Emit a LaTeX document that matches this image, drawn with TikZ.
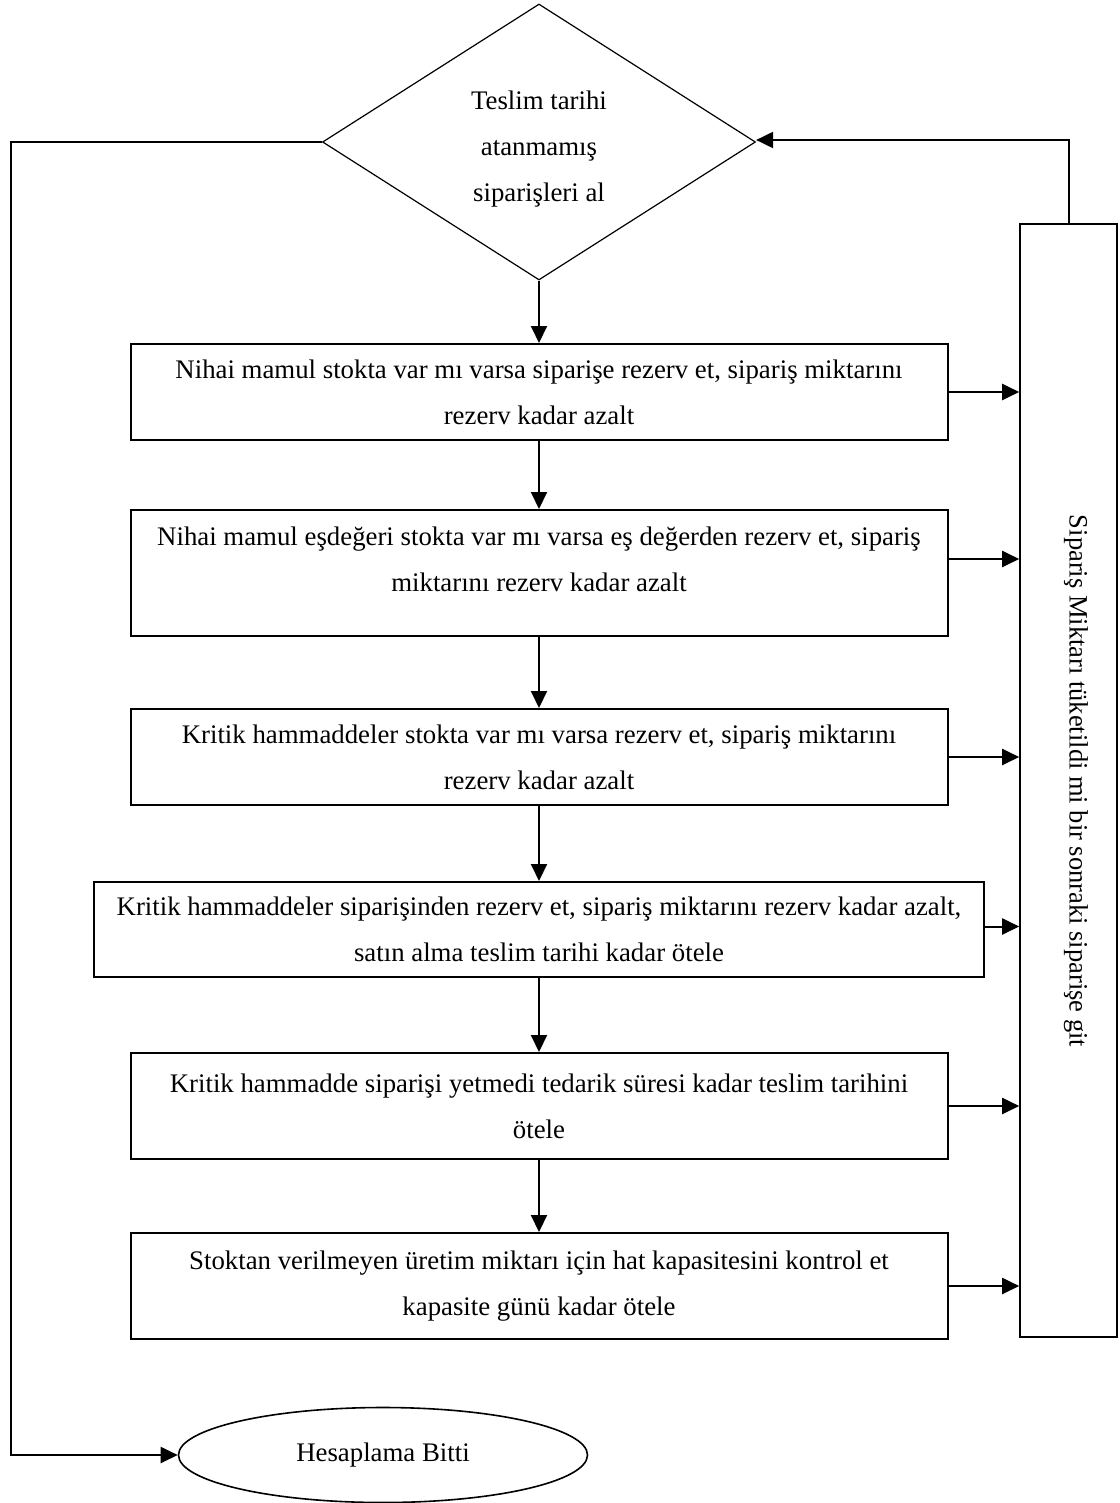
\documentclass[tikz,border=0pt]{standalone}
\usepackage{fontspec}
\setmainfont{Liberation Serif}
\usetikzlibrary{arrows.meta,shapes.geometric}
\begin{document}
\begin{tikzpicture}[x=0.5pt,y=-0.5pt,
  every node/.style={font=\fontsize{13.4pt}{23pt}\selectfont},
  box/.style={draw,line width=1pt,rectangle,inner sep=0pt,align=center,minimum width=408.5pt},
  dia/.style={draw,line width=0.6pt,diamond,inner sep=0pt,align=center,minimum width=216.5pt,minimum height=138pt},
  endnode/.style={draw,line width=0.8pt,ellipse,inner sep=0pt,minimum width=204.5pt,minimum height=47.5pt},
  sidebox/.style={draw,line width=0.8pt,rectangle,inner sep=0pt,minimum width=48.5pt,minimum height=556.5pt},
  arr/.style={line width=1pt,-{Triangle[length=8.5pt,width=8pt]}},
  plain/.style={line width=1pt}
]
\useasboundingbox (0,0) rectangle (1119,1503);

\node[dia] (d) at (539,142) {\raisebox{-6pt}[0pt][0pt]{\makebox[0pt]{\begin{tabular}{@{}c@{}}Teslim tarihi\\ atanmamış\\ siparişleri al\end{tabular}}}};

\node[box,minimum height=48pt] (b1) at (539,392) {Nihai mamul stokta var mı varsa siparişe rezerv et, sipariş miktarını\\rezerv kadar azalt};
\node[box,minimum height=63pt] (b2) at (539,573) {};
\node (b2t) at (539,559) [align=center] {Nihai mamul eşdeğeri stokta var mı varsa eş değerden rezerv et, sipariş\\miktarını rezerv kadar azalt};
\node[box,minimum height=48pt] (b3) at (539,757) {Kritik hammaddeler stokta var mı varsa rezerv et, sipariş miktarını\\rezerv kadar azalt};
\node[box,minimum height=47.5pt,minimum width=445pt] (b4) at (539,929.5) {Kritik hammaddeler siparişinden rezerv et, sipariş miktarını rezerv kadar azalt,\\satın alma teslim tarihi kadar ötele};
\node[box,minimum height=53pt] (b5) at (539,1106) {Kritik hammadde siparişi yetmedi tedarik süresi kadar teslim tarihini\\ötele};
\node[box,minimum height=53pt] (b6) at (539,1286) {Stoktan verilmeyen üretim miktarı için hat kapasitesini kontrol et\\kapasite günü kadar ötele};

\node[sidebox] (rb) at (1068.5,780.5) {};
\node[rotate=-90,font=\fontsize{13.25pt}{23pt}\selectfont] (rbt) at (1076,781) {Sipariş Miktarı tüketildi mi bir sonraki siparişe git};

\node[endnode] (e) at (383,1455) {Hesaplama Bitti};

\coordinate (lc) at (11,142);

\draw[arr] (d.south) -- (b1.north);
\draw[arr] (b1.south) -- (b2.north);
\draw[arr] (b2.south) -- (b3.north);
\draw[arr] (b3.south) -- (b4.north);
\draw[arr] (b4.south) -- (b5.north);
\draw[arr] (b5.south) -- (b6.north);

\draw[arr] (b1.east) -- (b1.east -| rb.west);
\draw[arr] ([yshift=7pt]b2.east) -- ([yshift=7pt]b2.east -| rb.west);
\draw[arr] (b3.east) -- (b3.east -| rb.west);
\draw[arr] ([yshift=1.5pt]b4.east) -- ([yshift=1.5pt]b4.east -| rb.west);
\draw[arr] (b5.east) -- (b5.east -| rb.west);
\draw[arr] (b6.east) -- (b6.east -| rb.west);

\draw[arr] (rb.north) -- ([yshift=1pt]rb.north |- d.east) -- ([yshift=1pt]d.east);
\draw[arr] (d.west) -- (lc) |- (e.west);
\end{tikzpicture}
\end{document}
